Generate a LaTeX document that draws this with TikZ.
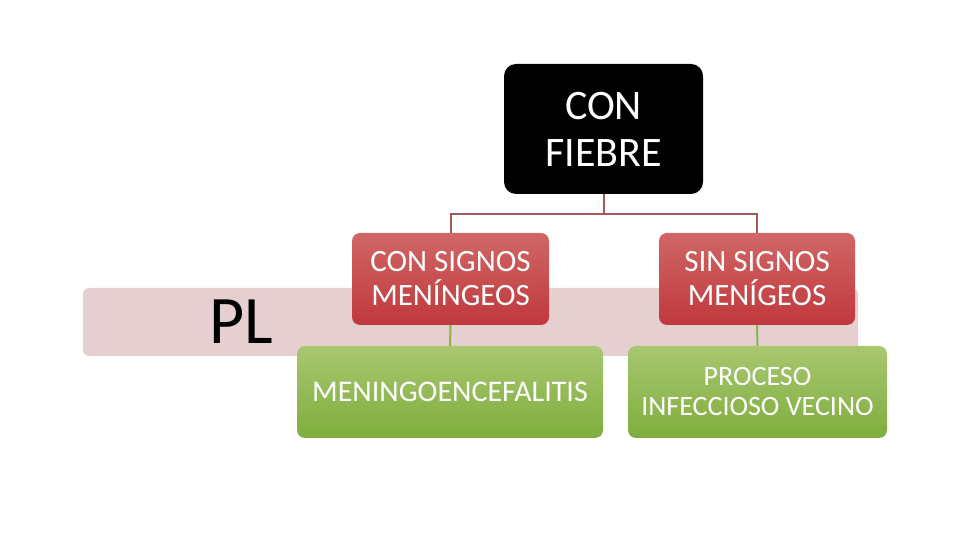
\documentclass[tikz,border=0pt]{standalone}
\usepackage{fontspec}
\setmainfont{Carlito}
\usepackage{tikz}
\usetikzlibrary{positioning}
\definecolor{mband}{rgb}{0.90, 0.81, 0.82}
\definecolor{mredtop}{rgb}{0.82, 0.40, 0.40}
\definecolor{mredbot}{rgb}{0.75, 0.22, 0.24}
\definecolor{mgreentop}{rgb}{0.66, 0.78, 0.44}
\definecolor{mgreenbot}{rgb}{0.50, 0.68, 0.24}
\definecolor{mlink}{rgb}{0.65, 0.34, 0.36}
\definecolor{mlinkg}{rgb}{0.56, 0.69, 0.33}
\tikzset{
  topbox/.style = {fill=black, text=white, rounded corners=12, inner sep=0, align=center,
    minimum width=199, minimum height=130, font=\fontsize{42}{47}\selectfont},
  redbox/.style = {top color=mredtop, bottom color=mredbot, text=white, rounded corners=8,
    inner sep=0, align=center, minimum height=92, font=\fontsize{31}{34}\selectfont},
  greenbox/.style = {top color=mgreentop, bottom color=mgreenbot, text=white, rounded corners=8,
    inner sep=0, align=center, minimum height=92, font=\fontsize{30}{30}\selectfont},
  tree/.style = {draw=mlink, line width=2},
  treeg/.style = {draw=mlinkg, line width=2}
}

\begin{document}
\begin{tikzpicture}[x=1pt, y=1pt]
    \useasboundingbox (0, 0) rectangle (960, 540);
    % band behind the tree
    \node [fill=mband, rounded corners=6, minimum width=775, minimum height=68, inner sep=0] (band) at (470.5, 218) {};
    \node [font=\fontsize{68}{70}\selectfont] (pl) at (241, 218) {PL};
    \node [topbox] (fiebre) at (603.5, 411) {CON\\FIEBRE};
    \node [redbox, minimum width=197] (consignos) at (450.5, 261) {CON SIGNOS\\MENÍNGEOS};
    \node [redbox, minimum width=196] (sinsignos) at (757, 261) {SIN SIGNOS\\MENÍGEOS};
    \node [greenbox, minimum width=306] (meningo) at (450, 148) {MENINGOENCEFALITIS};
    \node [greenbox, minimum width=259, font=\fontsize{28}{30}\selectfont] (proceso) at (757.5, 148) {PROCESO\\INFECCIOSO VECINO};
    \coordinate (split) at ([yshift=-19.5] fiebre.south);
    \draw [tree] (fiebre.south) -- (split) -| (consignos.north);
    \draw [tree] (split) -| (sinsignos.north);
    \draw [treeg] (consignos.south) -- (meningo.north);
    \draw [treeg] (sinsignos.south) -- (proceso.north);
  \end{tikzpicture}
\end{document}
